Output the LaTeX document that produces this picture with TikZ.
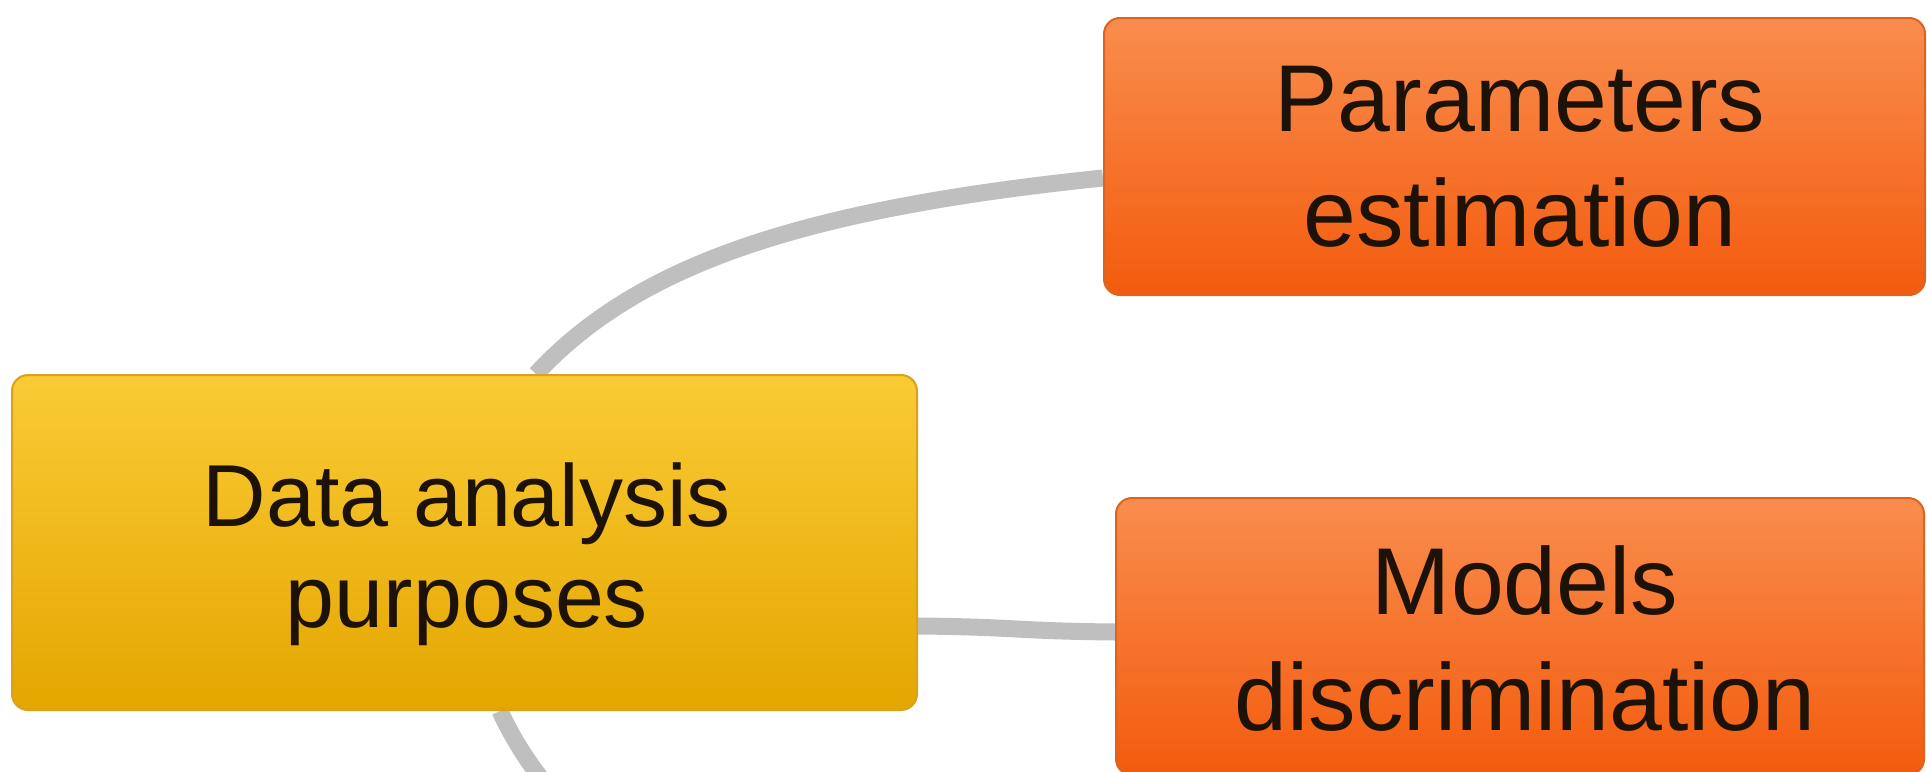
\documentclass[tikz,border=0pt]{standalone}
\usepackage{fontspec}
\setmainfont{Liberation Sans}
\usetikzlibrary{backgrounds}

\definecolor{roottop}{HTML}{FACB35}
\definecolor{rootbot}{HTML}{E4A600}
\definecolor{rootedge}{HTML}{D9A21A}
\definecolor{leaftop}{HTML}{F98D4E}
\definecolor{leafbot}{HTML}{F35B0D}
\definecolor{leafedge}{HTML}{DC6420}
\definecolor{linkgray}{HTML}{BFBFBF}
\definecolor{ink}{HTML}{1C1208}

\tikzset{
  box/.style={draw, line width=2pt, rounded corners=16pt, inner sep=0pt},
  rootbox/.style={box, draw=rootedge, top color=roottop, bottom color=rootbot},
  leafbox/.style={box, draw=leafedge, top color=leaftop, bottom color=leafbot},
  lbl/.style={align=center, text=ink, inner sep=0pt},
  link/.style={draw=linkgray, line width=17pt}
}

\begin{document}
\begin{tikzpicture}[x=1pt,y=1pt]
  \useasboundingbox (0,0) rectangle (1927,-771);
  \clip (0,0) rectangle (1927,-771);

  % boxes
  \node[rootbox, minimum width=905pt, minimum height=335pt] (root) at (464.5,-542.5) {};
  \node[leafbox, minimum width=821pt, minimum height=277pt] (param) at (1514.5,-156.5) {};
  \node[leafbox, minimum width=808pt, minimum height=277pt] (models) at (1520,-636.5) {};

  % box texts
  \node[lbl, font=\fontsize{88}{101}\selectfont] (rootlbl) at (467,-554) {Data analysis\\purposes};
  \node[lbl, font=\fontsize{95}{115}\selectfont] (paramlbl) at (1520,-156.5) {Parameters\\estimation};
  \node[lbl, font=\fontsize{95}{116}\selectfont] (modelslbl) at (1525,-638.5) {Models\\discrimination};

  % free end of the branch leaving downwards
  \coordinate (below) at (1050,-960);

  % branches behind the boxes
  \begin{scope}[on background layer]
    \draw[link] ([xshift=71.5pt]root.north) .. controls +(102,110) and +(-300,-31) .. ([yshift=-21.5pt]param.west);
    \draw[link] ([yshift=-83.5pt]root.east) .. controls +(100,-1) and +(-100,1) .. ([yshift=4.5pt]models.west);
    \draw[link] ([xshift=35.5pt]root.south) .. controls +(55,-120) and +(-350,0) .. (below);
  \end{scope}
\end{tikzpicture}
\end{document}
